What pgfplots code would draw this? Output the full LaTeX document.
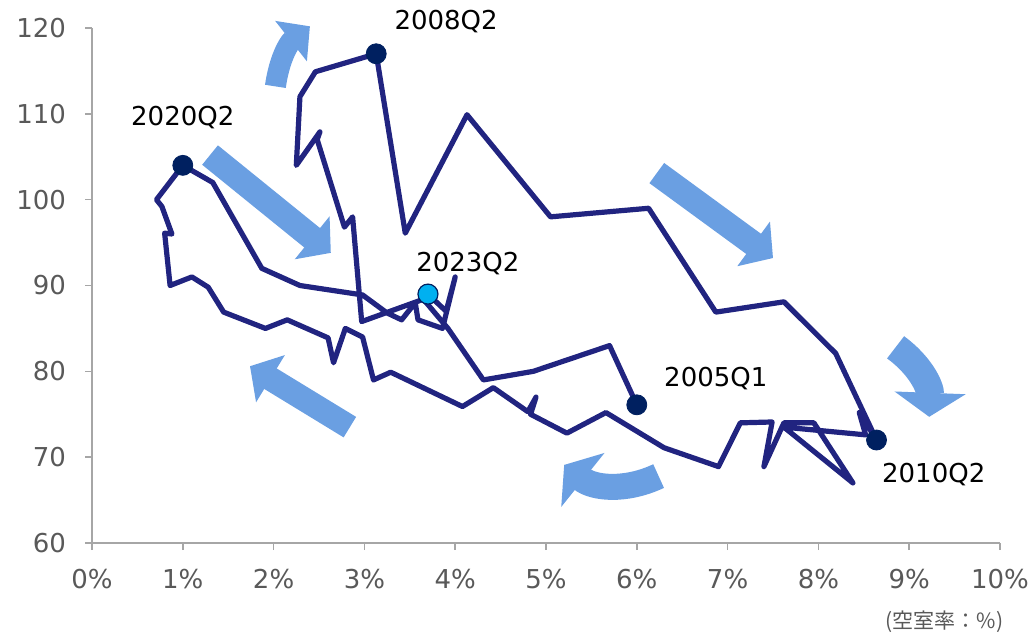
\documentclass[border=0pt]{standalone}
\usepackage{fontspec}
\setmainfont{DejaVu Sans}
\newfontfamily\cjk{Noto Sans CJK JP}
\usepackage{pgfplots}
\pgfplotsset{compat=1.18}
\usetikzlibrary{arrows.meta}
\definecolor{navy}{RGB}{33,36,128}
\definecolor{dotc}{RGB}{0,32,96}
\definecolor{lightb}{RGB}{0,176,240}
\definecolor{arr}{RGB}{106,159,226}
\definecolor{tickgray}{RGB}{89,89,89}
\definecolor{axgray}{RGB}{166,166,166}

\pgfplotstableread{
x y
6.00 76.1
5.70 83.0
4.86 80.0
4.31 79.0
3.92 85.0
3.65 88.4
2.97 85.8
2.87 98.0
2.78 96.8
2.48 107.0
2.51 107.9
2.25 104.0
2.29 112.0
2.46 114.9
3.13 117.0
3.45 96.1
4.13 109.9
5.05 98.0
6.13 99.0
6.87 86.9
7.62 88.1
8.19 82.1
8.64 72.0
8.45 75.2
8.52 72.6
7.62 73.5
8.38 67.0
7.95 74.0
7.62 74.0
7.40 68.9
7.49 74.1
7.14 74.0
6.90 68.9
6.30 71.1
5.66 75.2
5.23 72.8
4.83 75.0
4.89 77.0
4.80 75.3
4.42 78.1
4.08 75.9
3.29 79.9
3.10 79.0
2.98 84.0
2.79 85.0
2.66 81.0
2.60 83.9
2.15 86.0
1.91 85.0
1.45 86.9
1.28 89.8
1.10 91.0
0.86 90.0
0.80 96.1
0.88 96.0
0.77 99.2
0.71 100.0
1.00 104.0
1.33 102.0
1.87 92.0
2.29 90.0
2.98 88.9
3.25 86.8
3.41 86.0
3.56 88.0
3.59 86.0
3.86 85.0
4.00 91.0
3.90 87.0
3.70 89.0
}\rentdata

\pgfplotstableread{
x y
6.00 76.1
3.13 117.0
8.64 72.0
1.00 104.0
}\keypts

\begin{document}
\begin{tikzpicture}
\path[use as bounding box] (-46pt,-45pt) rectangle (469.5pt,271.5pt);
\begin{axis}[
  at={(0,0)}, anchor=south west,
  scale only axis, width=454pt, height=257.5pt,
  xmin=0, xmax=10, ymin=60, ymax=120,
  axis lines=left,
  axis line style={-, draw=axgray, line width=0.8pt},
  xtick={0,1,...,10}, ytick={60,70,...,120},
  xticklabel={\pgfmathprintnumber{\tick}\%},
  tick style={draw=axgray, line width=0.8pt},
  tick align=outside, major tick length=3.5pt,
  ticklabel style={font=\fontsize{13}{15}\selectfont, text=tickgray},
  xticklabel style={yshift=-6pt},
  yticklabel style={xshift=-6pt},
  /pgf/number format/assume math mode=true,
  clip=false,
]
% trend arrows (decorations)
\draw[arr, line width=12.5pt, -{Triangle[length=12pt,width=27pt]}]
  (axis cs:1.30,105.2) -- (axis cs:2.63,93.8);
\draw[arr, line width=12.5pt, -{Triangle[length=12pt,width=27pt]}]
  (axis cs:6.22,103.1) -- (axis cs:7.50,93.2);
\draw[arr, line width=12pt, -{Triangle[length=12pt,width=27pt]}]
  (axis cs:2.84,73.5) -- (axis cs:1.74,80.6);
\draw[arr, line width=10.5pt, -{Triangle[length=12pt,width=25pt]}]
  (axis cs:2.02,113.2) to[bend left=22] (axis cs:2.40,120.2);
\draw[arr, line width=14pt, -{Triangle[length=12pt,width=35pt]}]
  (axis cs:8.85,82.8) to[bend left=28] (axis cs:9.22,74.7);
\draw[arr, line width=13pt, -{Triangle[length=12pt,width=34pt]}]
  (axis cs:6.24,67.8) to[bend left=32] (axis cs:5.20,69.1);

\addplot[navy, line width=2.6pt, line join=round, no markers] table[x=x,y=y] {\rentdata};
\addplot[only marks, mark=*, mark size=5pt, mark options={fill=dotc, draw=dotc}] table[x=x,y=y] {\keypts};
\addplot[only marks, mark=*, mark size=5pt, mark options={fill=lightb, draw=dotc, line width=0.6pt}] coordinates {(3.70,89.0)};

\node[font=\fontsize{13}{15}\selectfont] at (axis cs:3.90,120.7) {2008Q2};
\node[font=\fontsize{13}{15}\selectfont] at (axis cs:1.00,109.6) {2020Q2};
\node[font=\fontsize{13}{15}\selectfont] at (axis cs:4.14,92.6) {2023Q2};
\node[font=\fontsize{13}{15}\selectfont] at (axis cs:6.87,79.2) {2005Q1};
\node[font=\fontsize{13}{15}\selectfont] at (axis cs:9.27,68.0) {2010Q2};
\node[font=\cjk\fontsize{10.5}{12}\selectfont, text=tickgray] at (axis cs:9.39,50.8) {(空室率：\%)};
\end{axis}
\end{tikzpicture}
\end{document}
